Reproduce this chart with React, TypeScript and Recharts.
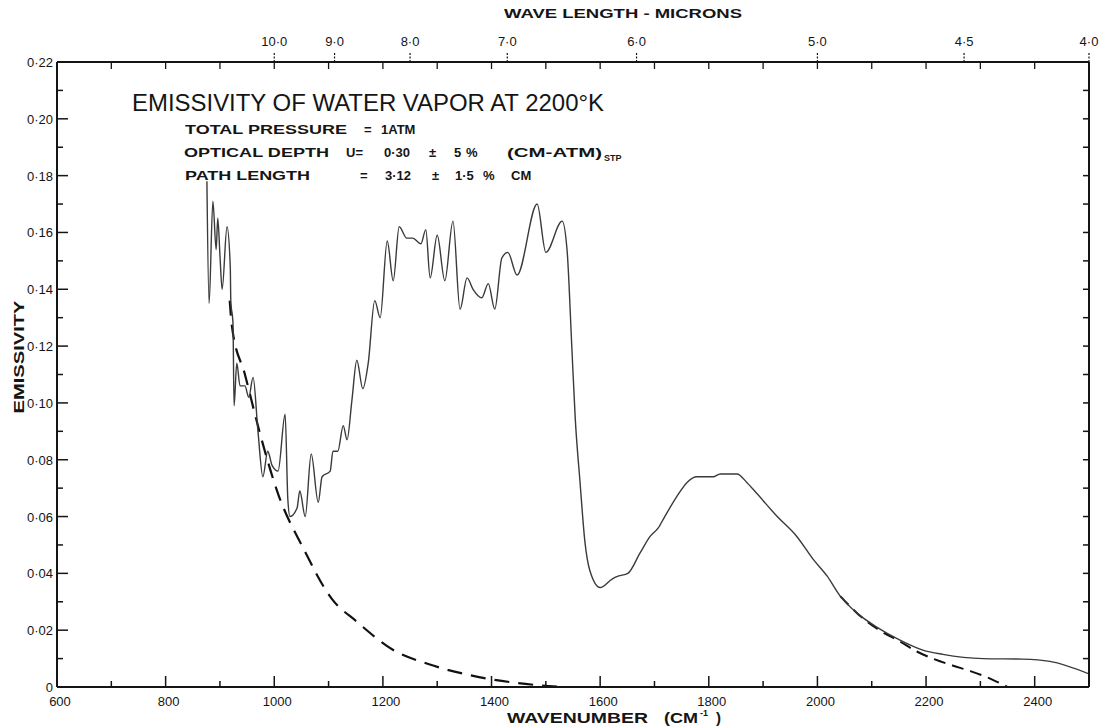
import React from "react";
import { LineChart, Line, XAxis, YAxis } from "recharts";

// measured trace: wavenumber (cm-1) / emissivity
const measuredWn = [
  876, 880, 887, 893, 896, 900, 904, 913, 919, 920, 924, 926, 931, 937, 946, 953,
  961, 970, 979, 988, 996, 1007, 1020, 1025, 1029, 1042, 1047, 1057, 1068, 1081,
  1088, 1103, 1108, 1117, 1127, 1134, 1143, 1152, 1163, 1173, 1185, 1195, 1208,
  1219, 1230, 1244, 1255, 1270, 1279, 1287, 1300, 1314, 1329, 1342, 1355, 1366,
  1382, 1394, 1406, 1419, 1430, 1447, 1484, 1500, 1530, 1539, 1548, 1554, 1563,
  1572, 1581, 1600, 1622, 1633, 1651, 1673, 1692, 1707, 1719, 1741, 1760, 1778,
  1808, 1821, 1852, 1870, 1889, 1926, 1962, 1992, 2018, 2042, 2073, 2110, 2152,
  2194, 2231, 2305, 2378, 2428, 2500,
];
const measuredEm = [
  0.178, 0.135, 0.171, 0.154, 0.165, 0.152, 0.14, 0.162, 0.148, 0.136, 0.128, 0.099,
  0.114, 0.106, 0.106, 0.102, 0.109, 0.09, 0.074, 0.083, 0.078, 0.076, 0.096, 0.066,
  0.06, 0.063, 0.069, 0.06, 0.082, 0.065, 0.074, 0.076, 0.083, 0.083, 0.092, 0.087,
  0.101, 0.115, 0.105, 0.114, 0.136, 0.13, 0.157, 0.143, 0.162, 0.158, 0.158, 0.156,
  0.161, 0.144, 0.159, 0.143, 0.164, 0.133, 0.144, 0.14, 0.137, 0.142, 0.133, 0.151,
  0.153, 0.145, 0.17, 0.153, 0.164, 0.154, 0.119, 0.095, 0.072, 0.051, 0.041, 0.035,
  0.038, 0.039, 0.04, 0.047, 0.053, 0.056, 0.06, 0.067, 0.072, 0.074, 0.074, 0.075,
  0.075, 0.072, 0.068, 0.06, 0.053, 0.045, 0.039, 0.032, 0.026, 0.021, 0.0165, 0.013,
  0.0115, 0.01, 0.0098, 0.009, 0.0046,
];

// dashed curves (left wing and right wing)
const leftWingWn = [918, 922, 946, 974, 1007, 1053, 1106, 1152, 1219, 1285, 1377, 1482, 1530];
const leftWingEm = [0.136, 0.127, 0.11, 0.089, 0.068, 0.049, 0.031, 0.023, 0.013, 0.008, 0.0035, 0.0007, 0];
const rightWingWn = [2042, 2073, 2110, 2152, 2183, 2215, 2250, 2283, 2320, 2350];
const rightWingEm = [0.032, 0.026, 0.0205, 0.016, 0.0125, 0.0098, 0.0075, 0.0055, 0.0028, 0];

// axes
const wnTicks = [600, 700, 800, 900, 1000, 1100, 1200, 1300, 1400, 1500, 1600, 1700, 1800, 1900, 2000, 2100, 2200, 2300, 2400, 2500];
const wnLabels = ["600", "800", "1000", "1200", "1400", "1600", "1800", "2000", "2200", "2400"];
const topInnerTicks = [700, 800, 900, 1000, 1100, 1200, 1300, 1400, 1500, 1600, 1700, 1800, 1900, 2000, 2100, 2200, 2300, 2400];
const micronTickWn = [1000, 1111, 1250, 1429, 1667, 2000, 2270, 2500];
const micronLabels = ["10·0", "9·0", "8·0", "7·0", "6·0", "5·0", "4·5", "4·0"];
const emTicks = [0, 0.01, 0.02, 0.03, 0.04, 0.05, 0.06, 0.07, 0.08, 0.09, 0.1, 0.11, 0.12, 0.13, 0.14, 0.15, 0.16, 0.17, 0.18, 0.19, 0.2, 0.21, 0.22];
const emLabels = ["0", "", "0·02", "", "0·04", "", "0·06", "", "0·08", "", "0·10", "", "0·12", "", "0·14", "", "0·16", "", "0·18", "", "0·20", "", "0·22"];

const measured = measuredWn.map((wn, i) => ({ wn, em: measuredEm[i] }));
const leftWing = leftWingWn.map((wn, i) => ({ wn, em: leftWingEm[i] }));
const rightWing = rightWingWn.map((wn, i) => ({ wn, em: rightWingEm[i] }));
const topTicks = Array.from(new Set([...topInnerTicks, ...micronTickWn])).sort((a, b) => a - b);

const ink = "#151515";
const font = "'Liberation Sans', Arial, sans-serif";

const BottomTick = (props: any) => {
  const { x, y, payload } = props;
  const v = payload.value;
  const major = v % 200 === 0;
  const idx = wnTicks.filter((t) => t % 200 === 0).indexOf(v);
  return (
    <g>
      <line x1={x} y1={y} x2={x} y2={y - (major ? 11 : 6)} stroke={ink} strokeWidth={1.5} />
      {major && idx >= 0 && idx < wnLabels.length && (
        <text x={x + 3} y={y + 19} textAnchor="middle" fontSize={13} fontFamily={font} fill={ink}>
          {wnLabels[idx]}
        </text>
      )}
    </g>
  );
};

const TopTick = (props: any) => {
  const { x, y, payload } = props;
  const v = payload.value;
  const mi = micronTickWn.indexOf(v);
  return (
    <g>
      {topInnerTicks.includes(v) && (
        <line x1={x} y1={y} x2={x} y2={y + 7} stroke={ink} strokeWidth={1.3} />
      )}
      {mi >= 0 && (
        <g>
          <line x1={x} y1={y} x2={x} y2={y - 10} stroke={ink} strokeWidth={1.2} strokeDasharray="2 1.5" />
          <text x={x} y={y - 16} textAnchor="middle" fontSize={13} fontFamily={font} fill={ink}>
            {micronLabels[mi]}
          </text>
        </g>
      )}
    </g>
  );
};

const LeftTick = (props: any) => {
  const { x, y, index } = props;
  const label = emLabels[index];
  return (
    <g>
      <line x1={x} y1={y} x2={x + (label ? 11 : 6)} y2={y} stroke={ink} strokeWidth={1.5} />
      {label && (
        <text x={x - 4} y={y + 5} textAnchor="end" fontSize={13} fontFamily={font} fill={ink}>
          {label}
        </text>
      )}
    </g>
  );
};

const RightTick = (props: any) => {
  const { x, y } = props;
  return <line x1={x} y1={y} x2={x - 6} y2={y} stroke={ink} strokeWidth={1.5} />;
};

const Notes = () => (
  <svg
    width={1103}
    height={727}
    style={{ position: "absolute", left: 0, top: 0, pointerEvents: "none" }}
    fontFamily={font}
    fill={ink}
  >
    <text x={623} y={18} textAnchor="middle" fontSize={13} fontWeight="bold" textLength={238} lengthAdjust="spacingAndGlyphs">
      WAVE LENGTH - MICRONS
    </text>
    <text x={132} y={111} fontSize={23} textLength={472} lengthAdjust="spacingAndGlyphs">
      EMISSIVITY OF WATER VAPOR AT 2200°K
    </text>
    <text y={134} fontSize={13} fontWeight="bold">
      <tspan x={185} textLength={162} lengthAdjust="spacingAndGlyphs">TOTAL PRESSURE</tspan>
      <tspan x={364}>=</tspan>
      <tspan x={381}>1ATM</tspan>
    </text>
    <text y={157} fontSize={13} fontWeight="bold">
      <tspan x={184} textLength={145} lengthAdjust="spacingAndGlyphs">OPTICAL DEPTH</tspan>
      <tspan x={346}>U=</tspan>
      <tspan x={384}>0·30</tspan>
      <tspan x={429}>±</tspan>
      <tspan x={454}>5</tspan>
      <tspan x={466}>%</tspan>
      <tspan x={507} textLength={95} lengthAdjust="spacingAndGlyphs">(CM-ATM)</tspan>
      <tspan x={604} dy={4} fontSize={9}>STP</tspan>
    </text>
    <text y={180} fontSize={13} fontWeight="bold">
      <tspan x={185} textLength={125} lengthAdjust="spacingAndGlyphs">PATH LENGTH</tspan>
      <tspan x={360}>=</tspan>
      <tspan x={385}>3·12</tspan>
      <tspan x={432}>±</tspan>
      <tspan x={455}>1·5</tspan>
      <tspan x={483}>%</tspan>
      <tspan x={511}>CM</tspan>
    </text>
    <text y={723} fontSize={15} fontWeight="bold">
      <tspan x={507} textLength={141} lengthAdjust="spacingAndGlyphs">WAVENUMBER</tspan>
      <tspan x={664} textLength={34} lengthAdjust="spacingAndGlyphs">(CM</tspan>
      <tspan x={700} dy={-7} fontSize={9}>-1</tspan>
      <tspan x={716} dy={7}>)</tspan>
    </text>
    <text
      x={0}
      y={0}
      fontSize={14}
      fontWeight="bold"
      textAnchor="middle"
      textLength={113}
      lengthAdjust="spacingAndGlyphs"
      transform="translate(24 357) rotate(-90)"
    >
      EMISSIVITY
    </text>
  </svg>
);

export default function App() {
  return (
    <div style={{ position: "absolute", left: 0, top: 0, width: 1103, height: 727, background: "#fff" }}>
      <LineChart width={1103} height={727} margin={{ top: 32, right: 4, bottom: 10, left: 7 }}>
        <XAxis
          xAxisId="b"
          dataKey="wn"
          type="number"
          domain={[600, 2500]}
          allowDataOverflow
          ticks={wnTicks}
          interval={0}
          height={30}
          tickSize={0}
          tickMargin={0}
          tickLine={false}
          tick={<BottomTick />}
          axisLine={{ stroke: ink, strokeWidth: 2 }}
        />
        <XAxis
          xAxisId="t"
          dataKey="wn"
          orientation="top"
          type="number"
          domain={[600, 2500]}
          allowDataOverflow
          ticks={topTicks}
          interval={0}
          height={30}
          tickSize={0}
          tickMargin={0}
          tickLine={false}
          tick={<TopTick />}
          axisLine={{ stroke: ink, strokeWidth: 2 }}
        />
        <YAxis
          yAxisId="l"
          type="number"
          domain={[0, 0.22]}
          allowDataOverflow
          ticks={emTicks}
          interval={0}
          width={50}
          tickSize={0}
          tickMargin={0}
          tickLine={false}
          tick={<LeftTick />}
          axisLine={{ stroke: ink, strokeWidth: 2 }}
        />
        <YAxis
          yAxisId="r"
          orientation="right"
          type="number"
          domain={[0, 0.22]}
          allowDataOverflow
          ticks={emTicks.slice(1, -1)}
          interval={0}
          width={10}
          tickSize={0}
          tickMargin={0}
          tickLine={false}
          tick={<RightTick />}
          axisLine={{ stroke: ink, strokeWidth: 2 }}
        />
        {/* invisible series so the top and right axes get their ticks */}
        <Line
          xAxisId="t"
          yAxisId="r"
          data={measured}
          dataKey="em"
          stroke="none"
          dot={false}
          activeDot={false}
          isAnimationActive={false}
        />
        <Line
          xAxisId="b"
          yAxisId="l"
          data={leftWing}
          dataKey="em"
          type="monotone"
          stroke="#111"
          strokeWidth={2.2}
          strokeDasharray="15 9"
          dot={false}
          isAnimationActive={false}
        />
        <Line
          xAxisId="b"
          yAxisId="l"
          data={rightWing}
          dataKey="em"
          type="monotone"
          stroke="#111"
          strokeWidth={2}
          strokeDasharray="12 7"
          dot={false}
          isAnimationActive={false}
        />
        <Line
          xAxisId="b"
          yAxisId="l"
          data={measured}
          dataKey="em"
          type="monotone"
          stroke="#3a3a3a"
          strokeWidth={1.4}
          dot={false}
          isAnimationActive={false}
        />
      </LineChart>
      <Notes />
    </div>
  );
}
